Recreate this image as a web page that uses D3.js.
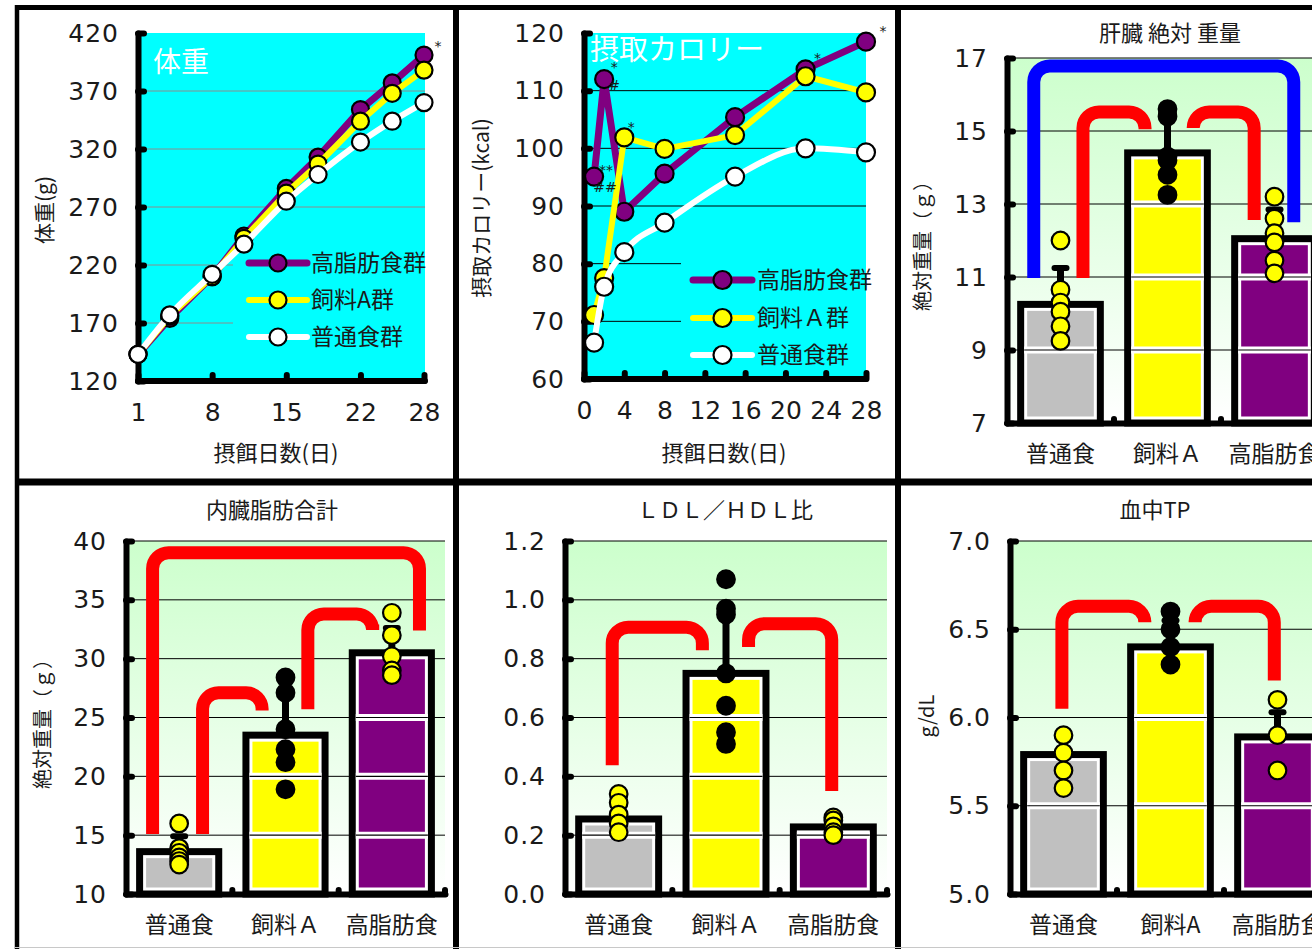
<!DOCTYPE html>
<html lang="ja">
<head>
<meta charset="UTF-8">
<title>体重・摂取カロリー・臓器重量・血液検査</title>
<script src="https://d3js.org/d3.v7.min.js"></script>
<style>
    body { margin: 0; background: #fff; }
    text { font-family: "Noto Sans CJK JP", sans-serif; fill: #1a1a1a; }
</style>
</head>
<body>
<svg id="chart" width="1312" height="949"></svg>
<script>
// ---- 体重 (g) ----
const wtDays = [1, 4, 8, 11, 15, 18, 22, 25, 28];
const wtHighFat = [143, 174, 210, 245, 286, 313, 354, 377, 401];
const wtFeedA = [143, 176, 210, 243, 282, 307, 344, 368, 388];
const wtNormal = [143, 177, 212, 238, 275, 298, 326, 344, 360];
const wtXTicks = [1, 8, 15, 22, 28];
const wtYTicks = [120, 170, 220, 270, 320, 370, 420];

// ---- 摂取カロリー (kcal) ----
const calDays = [1, 2, 4, 8, 15, 22, 28];
const calHighFat = [95.1, 112.0, 89.0, 95.6, 105.4, 113.7, 118.5];
const calFeedA = [71.1, 77.5, 101.9, 99.9, 102.3, 112.5, 109.7];
const calNormal = [66.3, 76.0, 82.0, 87.1, 95.1, 100.0, 99.3];
const calXTicks = [0, 4, 8, 12, 16, 20, 24, 28];
const calYTicks = [60, 70, 80, 90, 100, 110, 120];

const seriesNames = ["高脂肪食群", "飼料A群", "普通食群"];
const seriesNames2 = ["高脂肪食群", "飼料Ａ群", "普通食群"];

// ---- bar groups ----
const groups = ["普通食", "飼料Ａ", "高脂肪食"];
const groupsTP = ["普通食", "飼料A", "高脂肪食"];

// 肝臓 絶対 重量
const liverMean = [10.25, 14.4, 12.05];
const liverSd = [1.0, 1.1, 0.8];
const liverPoints = [
    [12.0, 10.65, 10.3, 10.05, 9.65, 9.25],
    [15.6, 15.4, 14.3, 14.2, 13.8, 13.25],
    [13.2, 12.6, 12.2, 11.95, 11.45, 11.1]
];
const liverTicks = [7, 9, 11, 13, 15, 17];

// 内臓脂肪合計
const fatMean = [13.6, 23.5, 30.5];
const fatSd = [1.3, 4.85, 2.1];
const fatPoints = [
    [16.0, 13.9, 13.5, 13.1, 12.8, 12.5],
    [28.4, 27.1, 24.0, 22.3, 21.2, 18.9],
    [33.9, 32.0, 30.2, 29.0, 28.6]
];
const fatTicks = [10, 15, 20, 25, 30, 35, 40];

// LDL/HDL比
const ldlMean = [0.255, 0.75, 0.228];
const ldlSd = [0.055, 0.2, 0.03];
const ldlPoints = [
    [0.34, 0.31, 0.27, 0.24, 0.21],
    [1.07, 0.97, 0.95, 0.75, 0.64, 0.55, 0.51],
    [0.26, 0.25, 0.23, 0.21, 0.2]
];
const ldlTicks = [0, 0.2, 0.4, 0.6, 0.8, 1.0, 1.2];

// 血中TP
const tpMean = [5.79, 6.40, 5.89];
const tpSd = [0.1, 0.15, 0.14];
const tpPoints = [
    [5.9, 5.8, 5.7, 5.6],
    [6.6, 6.5, 6.4, 6.3],
    [6.1, 5.9, 5.7]
];
const tpTicks = [5.0, 5.5, 6.0, 6.5, 7.0];

const barColors = ["#c0c0c0", "#ffff00", "#800080"];
const dotColors = ["#ffff00", "#000000", "#ffff00"];

const NUM_FONT = '"DejaVu Sans", sans-serif';
const JP_FONT = '"Noto Sans CJK JP", sans-serif';

const svg = d3.select("#chart");
svg.append("rect").attr("width", 1312).attr("height", 949).attr("fill", "#fff");

const grad = svg.append("defs").append("linearGradient")
    .attr("id", "greenBg").attr("x1", 0).attr("y1", 0).attr("x2", 0).attr("y2", 1);
grad.append("stop").attr("offset", "0%").attr("stop-color", "#ccffcc");
grad.append("stop").attr("offset", "100%").attr("stop-color", "#ffffff");

function styleAxis(g, size, family, spacing) {
    g.attr("font-family", null).attr("font-size", null);
    g.select(".domain").attr("stroke", "#000").attr("stroke-width", 6).attr("stroke-linecap", "round");
    g.selectAll(".tick line").attr("stroke", "#000").attr("stroke-width", 6).attr("stroke-linecap", "round");
    g.selectAll(".tick text").attr("fill", "#1a1a1a")
        .style("font-size", size + "px").style("font-family", family)
        .style("letter-spacing", (spacing || 0) + "px");
}

function rotLabel(g, t, size) {
    g.append("text")
        .attr("transform", `translate(${t.x},${t.y}) rotate(-90)`)
        .attr("text-anchor", "middle").attr("dy", "0.35em")
        .style("font-size", size + "px")
        .text(t.text);
}

function linePanel(c) {
    const g = svg.append("g");
    const x = d3.scaleLinear().domain(c.xDomain).range([c.left, c.right]);
    const y = d3.scaleLinear().domain(c.yDomain).range([c.bottom, c.top]);

    g.append("rect")
        .attr("x", c.left).attr("y", c.top)
        .attr("width", c.bgRight - c.left).attr("height", c.bottom - c.top)
        .attr("fill", "#00ffff");

    g.selectAll("line.grid").data(c.yTicks.slice(1, -1)).join("line")
        .attr("class", "grid")
        .attr("x1", c.left).attr("x2", c.bgRight)
        .attr("y1", d => y(d)).attr("y2", d => y(d))
        .attr("stroke", c.gridColor).attr("stroke-width", 1);

    // legend background hides the grid behind it
    const lg = c.legend;
    g.append("rect")
        .attr("x", lg.box[0]).attr("y", lg.box[1])
        .attr("width", lg.box[2]).attr("height", lg.box[3])
        .attr("fill", "#00ffff");

    g.append("text")
        .attr("x", c.title.x).attr("y", c.title.y).attr("dy", "0.35em")
        .style("fill", "#fff")
        .style("font-size", c.title.size + "px")
        .text(c.title.text);

    const ya = g.append("g").attr("transform", `translate(${c.left},0)`)
        .call(d3.axisLeft(y).tickValues(c.yTicks).tickSize(-6).tickSizeOuter(0).tickPadding(19));
    styleAxis(ya, 25, NUM_FONT, 1);

    const xa = g.append("g").attr("transform", `translate(0,${c.bottom})`)
        .call(d3.axisBottom(x).tickValues(c.xTicks).tickSize(-6).tickSizeOuter(0));
    styleAxis(xa, 25, NUM_FONT, 0);
    xa.selectAll(".tick text").attr("y", 31).attr("dy", "0.35em");
    xa.select(".domain").attr("d", `M${c.left},0H${c.bgRight}`);

    c.series.forEach(s => {
        const pts = c.days.map((d, i) => [x(d), y(s.values[i])]);
        g.append("path")
            .attr("d", d3.line().curve(s.curve)(pts))
            .attr("fill", "none").attr("stroke", s.color)
            .attr("stroke-width", s.width).attr("stroke-linejoin", "round");
        g.selectAll(null).data(pts).join("circle")
            .attr("cx", d => d[0]).attr("cy", d => d[1]).attr("r", c.r)
            .attr("fill", s.fill).attr("stroke", "#000").attr("stroke-width", 2.2);
    });

    c.series.forEach((s, i) => {
        const ry = lg.rows[i];
        g.append("line")
            .attr("x1", lg.x1).attr("x2", lg.x2).attr("y1", ry).attr("y2", ry)
            .attr("stroke", s.color).attr("stroke-width", s.width).attr("stroke-linecap", "round");
        g.append("circle")
            .attr("cx", (lg.x1 + lg.x2) / 2).attr("cy", ry).attr("r", c.r)
            .attr("fill", s.fill).attr("stroke", "#000").attr("stroke-width", 2.2);
        g.append("text")
            .attr("x", lg.tx).attr("y", ry).attr("dy", "0.35em")
            .style("font-size", "23px")
            .text(s.name);
    });

    c.marks.forEach(m => {
        const s = c.series[m.series];
        g.append("text")
            .attr("x", x(c.days[m.index]) + m.dx)
            .attr("y", y(s.values[m.index]) + m.dy)
            .attr("text-anchor", "middle").attr("dy", "0.35em")
            .style("font-size", "14px").style("font-family", NUM_FONT)
            .text(m.text);
    });

    rotLabel(g, c.yLabel, 21);
    g.append("text")
        .attr("x", c.xLabel.x).attr("y", c.xLabel.y).attr("dy", "0.35em")
        .attr("text-anchor", "middle").style("font-size", "22px")
        .text(c.xLabel.text);
}

function bracketPath(xa, ya, xb, yb, yt, r) {
    return `M${xa},${ya}V${yt + r}A${r},${r} 0 0 1 ${xa + r},${yt}` +
        `H${xb - r}A${r},${r} 0 0 1 ${xb},${yt + r}V${yb}`;
}

function barPanel(c) {
    const g = svg.append("g");
    const x = d3.scaleBand().domain(c.groups).range([c.left, c.right])
        .paddingInner(0.19).paddingOuter(0.095);
    const y = d3.scaleLinear().domain(c.yDomain).range([c.bottom, c.top]);
    const bw = x.bandwidth();
    const step = x.step();

    g.append("rect")
        .attr("x", c.left).attr("y", c.top)
        .attr("width", c.right - c.left).attr("height", c.bottom - c.top)
        .attr("fill", "url(#greenBg)");

    g.selectAll("line.grid").data(c.ticks.slice(1)).join("line")
        .attr("x1", c.left).attr("x2", c.right)
        .attr("y1", d => y(d)).attr("y2", d => y(d))
        .attr("stroke", "#000").attr("stroke-width", 1);

    c.groups.forEach((name, i) => {
        const bx = x(name);
        const top = y(c.means[i]);
        g.append("rect")
            .attr("x", bx + 3.5).attr("y", top)
            .attr("width", bw - 7).attr("height", c.bottom - top)
            .attr("fill", "#fff").attr("stroke", "#000").attr("stroke-width", 7);
        g.append("rect")
            .attr("x", bx + 10).attr("y", top + 6.5)
            .attr("width", bw - 20).attr("height", Math.max(0, c.bottom - top - 13))
            .attr("fill", barColors[i]);
        const inside = c.ticks.filter(t => y(t) > top + 6 && y(t) < c.bottom - 6);
        g.selectAll(null).data(inside).join("line")
            .attr("x1", bx + 7).attr("x2", bx + bw - 7)
            .attr("y1", d => y(d)).attr("y2", d => y(d))
            .attr("stroke", "#fff").attr("stroke-width", 7);
        g.selectAll(null).data(inside).join("line")
            .attr("x1", bx + 7).attr("x2", bx + bw - 7)
            .attr("y1", d => y(d)).attr("y2", d => y(d))
            .attr("stroke", "#000").attr("stroke-width", 1.2);
    });

    const ya = g.append("g").attr("transform", `translate(${c.left},0)`)
        .call(d3.axisLeft(y).tickValues(c.ticks).tickSize(-6).tickSizeOuter(0)
            .tickPadding(19).tickFormat(c.format));
    styleAxis(ya, 25, NUM_FONT, 1);

    const xa = g.append("g").attr("transform", `translate(0,${c.bottom})`)
        .call(d3.axisBottom(x).tickSize(0).tickSizeOuter(0));
    styleAxis(xa, 23, JP_FONT, 0);
    xa.selectAll(".tick text").attr("y", 31).attr("dy", "0.35em");
    xa.selectAll("line.sep").data([1, 2, 3]).join("line")
        .attr("x1", d => c.left + d * step).attr("x2", d => c.left + d * step)
        .attr("y1", 0).attr("y2", -4)
        .attr("stroke", "#000").attr("stroke-width", 6).attr("stroke-linecap", "round");

    c.groups.forEach((name, i) => {
        const cx = x(name) + bw / 2;
        const y0 = y(c.means[i]);
        const y1 = y(c.means[i] + c.sds[i]);
        g.append("line").attr("x1", cx).attr("x2", cx).attr("y1", y0).attr("y2", y1)
            .attr("stroke", "#000").attr("stroke-width", 7);
        g.append("line").attr("x1", cx - 6).attr("x2", cx + 6).attr("y1", y1).attr("y2", y1)
            .attr("stroke", "#000").attr("stroke-width", 6).attr("stroke-linecap", "round");
        g.selectAll(null).data(c.points[i]).join("circle")
            .attr("cx", cx).attr("cy", d => y(d)).attr("r", 8.8)
            .attr("fill", dotColors[i]).attr("stroke", "#000").attr("stroke-width", 2.2);
    });

    c.brackets.forEach(b => {
        const xa1 = x(c.groups[b.a]) + bw / 2 + b.da * step;
        const xb1 = x(c.groups[b.b]) + bw / 2 + b.db * step;
        g.append("path")
            .attr("d", bracketPath(xa1, y(b.ya), xb1, y(b.yb), y(b.top), 16))
            .attr("fill", "none").attr("stroke", b.color).attr("stroke-width", 13);
    });

    g.append("text")
        .attr("x", c.title.x).attr("y", c.title.y).attr("dy", "0.35em")
        .attr("text-anchor", "middle").style("font-size", "22px")
        .text(c.title.text);
    if (c.yLabel) rotLabel(g, c.yLabel, 20);
}

linePanel({
    left: 138, right: 424, bgRight: 425, top: 33, bottom: 381,
    xDomain: [1, 28], yDomain: [120, 420], xTicks: wtXTicks, yTicks: wtYTicks,
    gridColor: "#8c8c8c", r: 8.5, days: wtDays,
    series: [
        { name: seriesNames[0], values: wtHighFat, color: "#800080", fill: "#800080", width: 7, curve: d3.curveLinear },
        { name: seriesNames[1], values: wtFeedA, color: "#ffff00", fill: "#ffff00", width: 6, curve: d3.curveLinear },
        { name: seriesNames[2], values: wtNormal, color: "#ffffff", fill: "#ffffff", width: 6, curve: d3.curveMonotoneX }
    ],
    legend: { x1: 249, x2: 307, tx: 311, rows: [263, 300, 337], box: [233, 246, 192, 112] },
    title: { text: "体重", x: 153, y: 62, size: 28 },
    yLabel: { text: "体重(g)", x: 45, y: 210 },
    xLabel: { text: "摂餌日数(日)", x: 276, y: 453 },
    marks: [{ series: 0, index: 8, text: "*", dx: 14, dy: -9 }]
});

linePanel({
    left: 584, right: 866, bgRight: 866, top: 33, bottom: 379,
    xDomain: [0, 28], yDomain: [60, 120], xTicks: calXTicks, yTicks: calYTicks,
    gridColor: "#000", r: 9, days: calDays,
    series: [
        { name: seriesNames2[0], values: calHighFat, color: "#800080", fill: "#800080", width: 7, curve: d3.curveLinear },
        { name: seriesNames2[1], values: calFeedA, color: "#ffff00", fill: "#ffff00", width: 6, curve: d3.curveLinear },
        { name: seriesNames2[2], values: calNormal, color: "#ffffff", fill: "#ffffff", width: 6, curve: d3.curveMonotoneX }
    ],
    legend: { x1: 693, x2: 752, tx: 757, rows: [280, 318, 355], box: [681, 262, 185, 112] },
    title: { text: "摂取カロリー", x: 590, y: 50, size: 29 },
    yLabel: { text: "摂取カロリー(kcal)", x: 482, y: 208 },
    xLabel: { text: "摂餌日数(日)", x: 724, y: 453 },
    marks: [
        { series: 0, index: 1, text: "*", dx: 10, dy: -12 },
        { series: 0, index: 1, text: "#", dx: 10, dy: 6 },
        { series: 0, index: 0, text: "**", dx: 12, dy: -6 },
        { series: 0, index: 0, text: "##", dx: 11, dy: 11 },
        { series: 1, index: 2, text: "*", dx: 7, dy: -10 },
        { series: 0, index: 5, text: "*", dx: 12, dy: -11 },
        { series: 0, index: 6, text: "*", dx: 17, dy: -11 }
    ]
});

barPanel({
    left: 1007, right: 1328, top: 58, bottom: 423,
    yDomain: [7, 17], ticks: liverTicks, format: d3.format("d"),
    groups: groups, means: liverMean, sds: liverSd, points: liverPoints,
    title: { text: "肝臓 絶対 重量", x: 1170, y: 33 },
    yLabel: { text: "絶対重量（ｇ）", x: 923, y: 241 },
    brackets: [
        { a: 0, da: -0.25, ya: 10.97, b: 2, db: 0.18, yb: 12.5, top: 16.78, color: "#0000ff" },
        { a: 0, da: 0.21, ya: 10.97, b: 1, db: -0.21, yb: 15.05, top: 15.52, color: "#ff0000" },
        { a: 1, da: 0.24, ya: 15.08, b: 2, db: -0.19, yb: 12.56, top: 15.52, color: "#ff0000" }
    ]
});

barPanel({
    left: 126, right: 445, top: 541, bottom: 894,
    yDomain: [10, 40], ticks: fatTicks, format: d3.format("d"),
    groups: groups, means: fatMean, sds: fatSd, points: fatPoints,
    title: { text: "内臓脂肪合計", x: 272, y: 510 },
    yLabel: { text: "絶対重量（ｇ）", x: 43, y: 719 },
    brackets: [
        { a: 0, da: -0.25, ya: 15.1, b: 2, db: 0.26, yb: 32.4, top: 39.0, color: "#ff0000" },
        { a: 0, da: 0.22, ya: 15.1, b: 1, db: -0.22, yb: 25.6, top: 27.1, color: "#ff0000" },
        { a: 1, da: 0.21, ya: 25.7, b: 2, db: -0.18, yb: 32.9, top: 33.8, color: "#ff0000" }
    ]
});

barPanel({
    left: 565, right: 887, top: 541, bottom: 894,
    yDomain: [0, 1.2], ticks: ldlTicks, format: d3.format(".1f"),
    groups: groups, means: ldlMean, sds: ldlSd, points: ldlPoints,
    title: { text: "ＬＤＬ／ＨＤＬ比", x: 725, y: 510 },
    yLabel: null,
    brackets: [
        { a: 0, da: -0.06, ya: 0.438, b: 1, db: -0.22, yb: 0.829, top: 0.907, color: "#ff0000" },
        { a: 1, da: 0.21, ya: 0.84, b: 2, db: -0.015, yb: 0.35, top: 0.919, color: "#ff0000" }
    ]
});

barPanel({
    left: 1010, right: 1331, top: 541, bottom: 894,
    yDomain: [5, 7], ticks: tpTicks, format: d3.format(".1f"),
    groups: groupsTP, means: tpMean, sds: tpSd, points: tpPoints,
    title: { text: "血中TP", x: 1155, y: 510 },
    yLabel: { text: "g/dL", x: 927, y: 716 },
    brackets: [
        { a: 0, da: -0.015, ya: 6.05, b: 1, db: -0.24, yb: 6.55, top: 6.63, color: "#ff0000" },
        { a: 1, da: 0.23, ya: 6.55, b: 2, db: -0.03, yb: 6.21, top: 6.63, color: "#ff0000" }
    ]
});

// panel frame
const frame = svg.append("g").attr("stroke", "#000");
frame.append("line").attr("x1", 15).attr("x2", 1312).attr("y1", 7.5).attr("y2", 7.5).attr("stroke-width", 5);
frame.append("line").attr("x1", 17).attr("x2", 17).attr("y1", 5).attr("y2", 949).attr("stroke-width", 4.5);
frame.append("line").attr("x1", 456).attr("x2", 456).attr("y1", 5).attr("y2", 949).attr("stroke-width", 6);
frame.append("line").attr("x1", 898).attr("x2", 898).attr("y1", 5).attr("y2", 949).attr("stroke-width", 6);
frame.append("line").attr("x1", 15).attr("x2", 1312).attr("y1", 482).attr("y2", 482).attr("stroke-width", 7);
frame.append("line").attr("x1", 15).attr("x2", 1312).attr("y1", 947.5).attr("y2", 947.5)
    .attr("stroke", "#c8c8c8").attr("stroke-width", 1);
</script>
</body>
</html>
